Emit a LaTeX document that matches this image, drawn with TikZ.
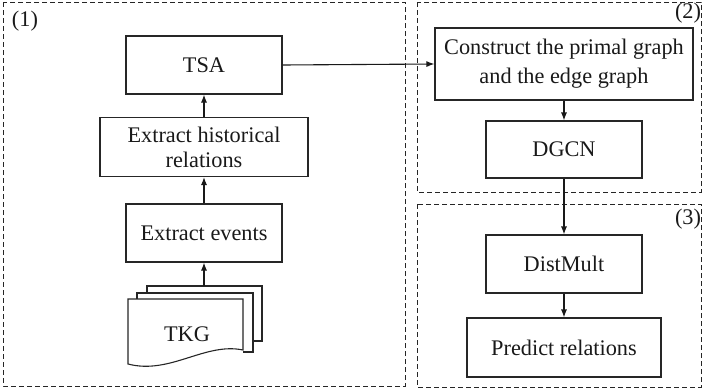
\documentclass[tikz,border=0pt]{standalone}
\usepackage{fontspec}
\setmainfont{Liberation Serif}
\usetikzlibrary{arrows.meta}
\begin{document}
\begin{tikzpicture}[x=1pt,y=-1pt,
  every node/.style={font=\fontsize{22.3}{26}\selectfont, text=black!90},
  box/.style={draw=black!85, line width=1.1pt, inner sep=0pt, align=center},
  panel/.style={draw=black!85, line width=0.9pt, dash pattern=on 5pt off 3pt},
  conn/.style={draw=black!90, line width=1.1pt, -{Latex[length=8pt,width=6pt]}},
  sheet/.style={draw=black!85, line width=1.1pt, fill=white}]
\useasboundingbox (0,0) rectangle (702,389);
% panels
\draw[panel] (3,2) rectangle (405,386);
\draw[panel] (417,2) rectangle (701,192);
\draw[panel] (417,204) rectangle (701,387);
\node (l1) at (25,21) {(1)};
\node (l2) at (688,13) {(2)};
\node (l3) at (688,219) {(3)};
% left column
\node[box, minimum width=156pt, minimum height=58pt] (tsa) at (204,65) {TSA};
\node[box, minimum width=208pt, minimum height=59pt, font=\fontsize{22.3}{25}\selectfont] (ehr) at (204,147) {Extract historical\\relations};
\node[box, minimum width=156pt, minimum height=58pt] (ev) at (204,233) {Extract events};
% TKG stack
\draw[sheet] (147,299) -- (147,286) -- (262,286) -- (262,341) -- (253,341);
\draw[sheet] (137,305) -- (137,293) -- (253,293) -- (253,352) -- (243,352);
\draw[sheet] (128,299) -- (243,299) -- (243,350) .. controls (205,342) and (170,375) .. (128,364) -- cycle;
\node (tkg) at (187,334) {TKG};
\coordinate (tkgtop) at (204,286);
% right column
\node[box, minimum width=258pt, minimum height=72pt, font=\fontsize{22.3}{29}\selectfont] (con) at (564,64) {Construct the primal graph\\and the edge graph};
\node[box, minimum width=156pt, minimum height=57pt] (dgcn) at (564,149.5) {DGCN};
\node[box, minimum width=156pt, minimum height=58pt] (dm) at (564,264) {DistMult};
\node[box, minimum width=194pt, minimum height=59pt] (pr) at (564,347.5) {Predict relations};
% connectors
\draw[conn] (tkgtop) -- (ev.south);
\draw[conn] (ev.north) -- (ehr.south);
\draw[conn] (ehr.north) -- (tsa.south);
\draw[conn] (tsa.east) -- (con.west);
\draw[conn] (con.south) -- (dgcn.north);
\draw[conn] (dgcn.south) -- (dm.north);
\draw[conn] (dm.south) -- (pr.north);
\end{tikzpicture}
\end{document}
